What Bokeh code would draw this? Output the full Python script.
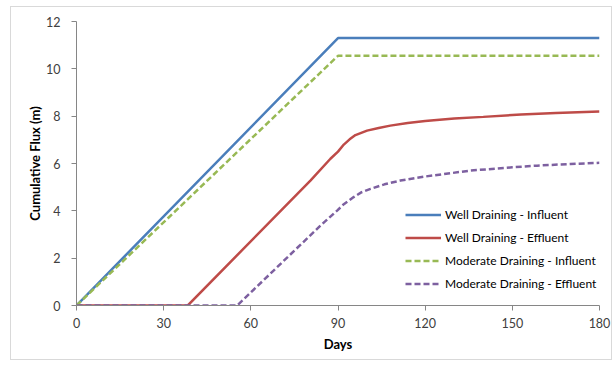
from bokeh.plotting import figure
from bokeh.models import Legend, LegendItem, FixedTicker
from bokeh.embed import file_html
from bokeh.resources import INLINE

# Data
well_inf_days = [0, 90, 180]
well_inf_vals = [0, 11.3, 11.3]

mod_inf_days = [0, 90, 180]
mod_inf_vals = [0, 10.55, 10.55]

well_eff_days = [0, 38.3, 80.5, 87.4, 90, 92, 94, 96, 100, 104, 108, 114, 120, 130, 140, 153, 165, 180]
well_eff_vals = [0, 0, 5.28, 6.2, 6.5, 6.8, 7.02, 7.2, 7.39, 7.5, 7.6, 7.71, 7.8, 7.9, 7.97, 8.07, 8.13, 8.2]

mod_eff_days = [0, 55.3, 84, 89.7, 92, 95.4, 98, 101.2, 106, 111.5, 120, 135.6, 150, 158.5, 170, 180]
mod_eff_vals = [0, 0, 3.38, 4.01, 4.28, 4.58, 4.78, 4.93, 5.12, 5.28, 5.45, 5.7, 5.84, 5.91, 5.98, 6.03]

x_ticks = [0, 30, 60, 90, 120, 150, 180]
y_ticks = [0, 2, 4, 6, 8, 10, 12]

FONT = "Lato"

p = figure(
    frame_width=523, frame_height=284,
    min_border_left=65, min_border_right=12, min_border_top=14, min_border_bottom=54,
    x_range=(0, 180), y_range=(0, 12),
    output_backend="svg", toolbar_location=None,
)
p.styles = {"border": "1px solid #d9d9d9", "margin-left": "10px", "margin-top": "6px"}
p.outline_line_color = None
p.xgrid.grid_line_color = None
p.ygrid.grid_line_color = None
p.background_fill_color = "white"
p.border_fill_color = "white"

r1 = p.line(well_inf_days, well_inf_vals, line_color="#4A7EBB", line_width=2.5)
r2 = p.line(well_eff_days, well_eff_vals, line_color="#BE4B48", line_width=2.5)
r3 = p.line(mod_inf_days, mod_inf_vals, line_color="#98B954", line_width=2.5, line_dash="6 3")
r4 = p.line(mod_eff_days, mod_eff_vals, line_color="#7D60A0", line_width=2.5, line_dash="6 3")

for ax in (p.xaxis[0], p.yaxis[0]):
    ax.axis_line_color = "#868686"
    ax.major_tick_line_color = "#868686"
    ax.minor_tick_line_color = None
    ax.major_tick_in = 0
    ax.major_tick_out = 5
    ax.major_label_text_font = FONT
    ax.major_label_text_font_size = "12.5px"
    ax.major_label_text_color = "#404040"
    ax.axis_label_text_font = FONT
    ax.axis_label_text_font_size = "13px"
    ax.axis_label_text_font_style = "bold"
    ax.axis_label_text_color = "#000000"

p.xaxis[0].ticker = FixedTicker(ticks=x_ticks)
p.yaxis[0].ticker = FixedTicker(ticks=y_ticks)
p.xaxis[0].axis_label = "Days"
p.yaxis[0].axis_label = "Cumulative Flux (m)"
p.xaxis[0].major_label_standoff = 7
p.yaxis[0].major_label_standoff = 11
p.xaxis[0].axis_label_standoff = 5
p.yaxis[0].axis_label_standoff = 0

legend = Legend(
    items=[
        LegendItem(label="Well Draining - Influent", renderers=[r1]),
        LegendItem(label="Well Draining - Effluent", renderers=[r2]),
        LegendItem(label="Moderate Draining - Influent", renderers=[r3]),
        LegendItem(label="Moderate Draining - Effluent", renderers=[r4]),
    ],
    location=(329, 12),
    padding=0, margin=0, spacing=4,
    glyph_width=36, glyph_height=19, label_height=19,
    label_standoff=4,
    label_text_font=FONT, label_text_font_size="12px", label_text_color="#000000",
    border_line_alpha=0, background_fill_alpha=0,
)
p.add_layout(legend)

open("out.html", "w").write(file_html(p, INLINE))
